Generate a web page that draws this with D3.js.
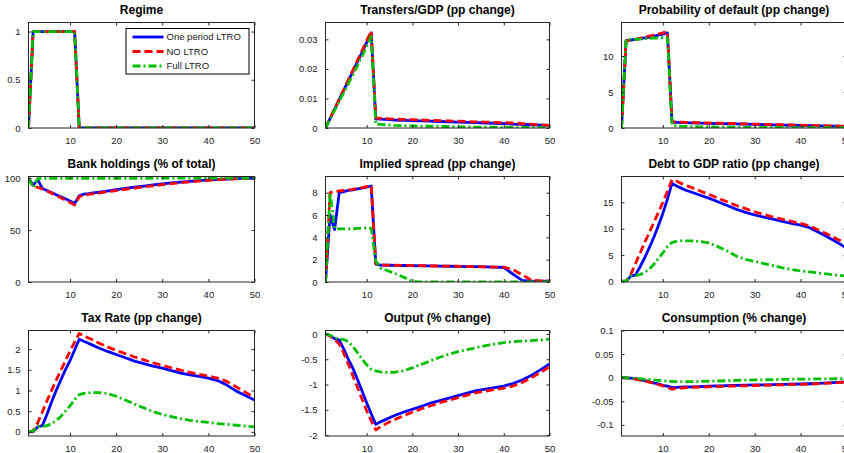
<!DOCTYPE html>
<html>
<head>
<meta charset="utf-8">
<script src="https://cdn.jsdelivr.net/npm/d3@7"></script>
<style>
  html, body { margin: 0; padding: 0; background: #fff; }
  svg { display: block; }
  text { font-family: "Liberation Sans", Arial, Helvetica, sans-serif; }
</style>
</head>
<body>
<svg id="chart" width="844" height="453"></svg>
<script>
// ---------------- DATA ----------------
const periods = [1,2,3,4,5,6,7,8,9,10,11,12,13,14,15,16,18,20,22,24,26,28,30,32,34,36,38,40,42,44,46,48,50];
const xTicks = [10,20,30,40,50];
const seriesNames = ["One period LTRO", "NO LTRO", "Full LTRO"];

const regimeOne  = [0,1,1,1,1,1,1,1,1,1,1,0,0,0,0,0,0,0,0,0,0,0,0,0,0,0,0,0,0,0,0,0,0];
const regimeNo   = [0,1,1,1,1,1,1,1,1,1,1,0,0,0,0,0,0,0,0,0,0,0,0,0,0,0,0,0,0,0,0,0,0];
const regimeFull = [0,1,1,1,1,1,1,1,1,1,1,0,0,0,0,0,0,0,0,0,0,0,0,0,0,0,0,0,0,0,0,0,0];
const regimeTicks = [0,0.5,1];

const transfersOne  = [0,0.0032,0.0064,0.0096,0.0128,0.016,0.0192,0.0224,0.0256,0.0289,0.0322,0.0031,0.0030,0.0029,0.0028,0.0027,0.0026,0.0025,0.0024,0.0023,0.0022,0.0021,0.0020,0.0019,0.0018,0.0017,0.0016,0.0015,0.0013,0.0012,0.0011,0.0010,0.0009];
const transfersNo   = [0,0.0033,0.0065,0.0098,0.013,0.0163,0.0196,0.0229,0.0262,0.0295,0.0328,0.0034,0.0033,0.0032,0.0031,0.0030,0.0029,0.0028,0.0027,0.0026,0.0025,0.0024,0.0023,0.0022,0.0021,0.0020,0.0019,0.0018,0.0017,0.0015,0.0013,0.0011,0.0009];
const transfersFull = [0,0.0030,0.0060,0.0090,0.0120,0.0150,0.0180,0.0212,0.0243,0.0276,0.0310,0.0013,0.0012,0.0011,0.0010,0.0009,0.0008,0.0007,0.0006,0.0006,0.0005,0.0005,0.0004,0.0004,0.0003,0.0003,0.0003,0.0002,0.0002,0.0002,0.0002,0.0001,0.0001];
const transfersTicks = [0,0.01,0.02,0.03];

const defaultOne  = [0,12.1,12.2,12.3,12.4,12.5,12.6,12.75,12.9,13.05,13.2,0.8,0.78,0.76,0.74,0.72,0.69,0.65,0.62,0.59,0.56,0.53,0.50,0.47,0.44,0.41,0.38,0.35,0.32,0.29,0.26,0.24,0.22];
const defaultNo   = [0,12.1,12.2,12.3,12.45,12.6,12.75,12.9,13.05,13.2,13.4,0.85,0.83,0.81,0.79,0.77,0.73,0.69,0.66,0.63,0.60,0.57,0.54,0.51,0.48,0.45,0.42,0.39,0.36,0.33,0.30,0.27,0.25];
const defaultFull = [0,12.2,12.3,12.3,12.35,12.4,12.45,12.5,12.5,12.55,12.5,0.4,0.3,0.25,0.22,0.2,0.17,0.15,0.13,0.12,0.11,0.1,0.09,0.08,0.07,0.07,0.06,0.06,0.05,0.05,0.05,0.04,0.04];
const defaultTicks = [0,5,10];

const bankOne  = [100,93,98.5,90,88,86,84,82,80,78,75.5,83,84.5,85,85.7,86.3,87.5,88.8,90,91.2,92.3,93.4,94.4,95.3,96.1,96.9,97.6,98.2,98.7,99.1,99.4,99.6,99.8];
const bankNo   = [100,92,91,89.5,87.5,85.5,83.3,81,78.8,76.5,74,82,83.5,84.2,84.9,85.5,86.8,88,89.2,90.4,91.5,92.6,93.6,94.6,95.5,96.4,97.2,97.9,98.5,99,99.3,99.6,99.8];
const bankFull = [100,91,99.5,99.7,99.8,99.8,99.8,99.8,99.8,99.8,99.8,99.8,99.8,99.8,99.8,99.8,99.8,99.8,99.8,99.8,99.8,99.8,99.9,99.9,99.9,99.9,99.9,99.9,99.9,99.9,99.9,99.9,99.9];
const bankTicks = [0,50,100];

const spreadOne  = [0,6.0,4.7,8.0,8.1,8.2,8.25,8.35,8.4,8.5,8.6,1.6,1.52,1.5,1.5,1.49,1.48,1.46,1.45,1.44,1.42,1.41,1.4,1.38,1.37,1.35,1.33,1.3,0.7,0.15,0.08,0.07,0.07];
const spreadNo   = [0,8.0,8.1,8.15,8.2,8.25,8.3,8.4,8.45,8.55,8.65,1.65,1.55,1.52,1.51,1.5,1.49,1.47,1.46,1.45,1.43,1.42,1.41,1.39,1.38,1.36,1.34,1.33,1.1,0.65,0.18,0.1,0.1];
const spreadFull = [0,8.0,4.8,4.75,4.75,4.75,4.75,4.8,4.8,4.85,4.8,1.9,1.25,1.1,0.95,0.8,0.45,0.05,0,0,0,0,0,0,0,0,0,0,0,0,0,0,0];
const spreadTicks = [0,2,4,6,8];

const debtOne  = [0,0,1.0,1.2,2.7,4.4,6.3,8.3,10.5,12.9,15.6,18.6,18.1,17.7,17.3,17.0,16.4,15.8,15.1,14.4,13.7,13.1,12.6,12.2,11.8,11.4,11.0,10.7,10.2,9.3,8.4,7.4,6.3];
const debtNo   = [0,0.1,1.3,3.3,5.3,7.3,9.2,11.1,13.0,15.0,17.1,19.3,19.0,18.6,18.2,17.9,17.2,16.5,15.8,15.1,14.4,13.8,13.2,12.7,12.2,11.8,11.4,11.0,10.5,9.7,8.9,8.0,7.2];
const debtFull = [0,0.1,1.0,1.1,1.3,1.7,2.3,3.2,4.3,5.4,6.6,7.4,7.6,7.7,7.7,7.7,7.6,7.3,6.6,5.8,4.8,4.2,3.8,3.4,3.0,2.6,2.3,2.0,1.8,1.6,1.4,1.2,1.0];
const debtTicks = [0,5,10,15];

const taxOne  = [0,0,0.12,0.15,0.42,0.72,1.0,1.25,1.5,1.72,1.98,2.24,2.19,2.14,2.09,2.04,1.95,1.87,1.79,1.71,1.65,1.59,1.54,1.48,1.42,1.38,1.34,1.30,1.24,1.13,0.99,0.88,0.77];
const taxNo   = [0,0.02,0.22,0.48,0.75,1.0,1.25,1.48,1.72,1.95,2.17,2.38,2.32,2.27,2.22,2.16,2.06,1.97,1.89,1.81,1.74,1.67,1.61,1.55,1.49,1.44,1.39,1.35,1.30,1.22,1.09,0.96,0.83];
const taxFull = [0,0.02,0.12,0.13,0.15,0.2,0.27,0.37,0.5,0.63,0.78,0.9,0.93,0.94,0.95,0.95,0.93,0.86,0.77,0.67,0.58,0.49,0.42,0.37,0.32,0.28,0.25,0.23,0.2,0.18,0.16,0.14,0.12];
const taxTicks = [0,0.5,1,1.5,2];

const outputOne  = [0,-0.03,-0.09,-0.12,-0.3,-0.5,-0.68,-0.9,-1.13,-1.36,-1.58,-1.79,-1.74,-1.70,-1.66,-1.62,-1.55,-1.49,-1.43,-1.37,-1.32,-1.27,-1.22,-1.17,-1.12,-1.09,-1.06,-1.03,-0.98,-0.91,-0.82,-0.71,-0.59];
const outputNo   = [0,-0.04,-0.11,-0.2,-0.38,-0.6,-0.83,-1.06,-1.29,-1.52,-1.72,-1.9,-1.84,-1.79,-1.74,-1.70,-1.62,-1.55,-1.48,-1.42,-1.36,-1.31,-1.26,-1.21,-1.16,-1.13,-1.10,-1.07,-1.03,-0.96,-0.87,-0.76,-0.65];
const outputFull = [0,-0.02,-0.08,-0.1,-0.11,-0.15,-0.25,-0.37,-0.5,-0.61,-0.7,-0.73,-0.75,-0.76,-0.76,-0.76,-0.73,-0.67,-0.6,-0.53,-0.46,-0.4,-0.35,-0.31,-0.27,-0.23,-0.2,-0.17,-0.15,-0.14,-0.13,-0.12,-0.1];
const outputTicks = [-2,-1.5,-1,-0.5,0];

const consOne  = [0,-0.0005,-0.001,-0.002,-0.004,-0.006,-0.008,-0.011,-0.013,-0.016,-0.018,-0.021,-0.0205,-0.02,-0.0197,-0.0194,-0.0187,-0.018,-0.0174,-0.0168,-0.0163,-0.0158,-0.0154,-0.015,-0.0146,-0.0142,-0.0138,-0.0133,-0.0128,-0.012,-0.011,-0.0098,-0.0087];
const consNo   = [0,-0.0005,-0.0015,-0.003,-0.005,-0.007,-0.0095,-0.012,-0.0145,-0.017,-0.0205,-0.0245,-0.0225,-0.0218,-0.0212,-0.0207,-0.02,-0.0193,-0.0186,-0.018,-0.0175,-0.017,-0.0165,-0.016,-0.0155,-0.015,-0.0145,-0.014,-0.0135,-0.0127,-0.0117,-0.0105,-0.0093];
const consFull = [0,-0.0005,-0.001,-0.0015,-0.002,-0.003,-0.0037,-0.0045,-0.0055,-0.0065,-0.0075,-0.008,-0.0085,-0.0085,-0.0085,-0.0085,-0.008,-0.0075,-0.007,-0.0063,-0.0057,-0.0052,-0.0048,-0.0044,-0.004,-0.0036,-0.0033,-0.003,-0.0028,-0.0026,-0.0024,-0.0022,-0.002];
const consTicks = [-0.1,-0.05,0,0.05,0.1];

// ---------------- LAYOUT / STYLE ----------------
const panels = [
  {title:"Regime", s:[regimeOne,regimeNo,regimeFull], dom:[0,1.094], ticks:regimeTicks, legend:true},
  {title:"Transfers/GDP (pp change)", s:[transfersOne,transfersNo,transfersFull], dom:[0,0.0357], ticks:transfersTicks},
  {title:"Probability of default (pp change)", s:[defaultOne,defaultNo,defaultFull], dom:[0,14.65], ticks:defaultTicks},
  {title:"Bank holdings (% of total)", s:[bankOne,bankNo,bankFull], dom:[0,101.5], ticks:bankTicks},
  {title:"Implied spread (pp change)", s:[spreadOne,spreadNo,spreadFull], dom:[0,9.45], ticks:spreadTicks},
  {title:"Debt to GDP ratio (pp change)", s:[debtOne,debtNo,debtFull], dom:[-0.1,19.9], ticks:debtTicks},
  {title:"Tax Rate (pp change)", s:[taxOne,taxNo,taxFull], dom:[-0.1,2.45], ticks:taxTicks},
  {title:"Output (% change)", s:[outputOne,outputNo,outputFull], dom:[-2.02,0.07], ticks:outputTicks},
  {title:"Consumption (% change)", s:[consOne,consNo,consFull], dom:[-0.1235,0.1], ticks:consTicks}
];

const colLeft = [28.5, 325.5, 621.5];
const colWidth = [226, 224, 225];
const rowTop = [22.5, 176.5, 330.5];
const rowHeight = 105.5;

const lineStyles = [
  {color:"#0000ff", dash:null},
  {color:"#ff0000", dash:"8,4"},
  {color:"#00bf00", dash:"8,3,2,3"}
];
const axisColor = "#262626";
const tickLen = 3;

const svg = d3.select("#chart");

panels.forEach((p, i) => {
  const c = i % 3, r = Math.floor(i / 3);
  const L = colLeft[c], T = rowTop[r], W = colWidth[c], H = rowHeight;
  const x = d3.scaleLinear().domain([1, 50]).range([L, L + W]);
  const y = d3.scaleLinear().domain(p.dom).range([T + H, T]);
  const g = svg.append("g");

  // clip
  const cid = "clip" + i;
  svg.append("clipPath").attr("id", cid)
    .append("rect").attr("x", L).attr("y", T).attr("width", W).attr("height", H);

  // lines
  const line = d3.line().x((d, k) => x(periods[k])).y(d => y(d));
  const lg = g.append("g").attr("clip-path", `url(#${cid})`);
  p.s.forEach((vals, k) => {
    lg.append("path").datum(vals)
      .attr("d", line)
      .attr("fill", "none")
      .attr("stroke", lineStyles[k].color)
      .attr("stroke-width", 2.8)
      .attr("stroke-linejoin", "round")
      .attr("stroke-dasharray", lineStyles[k].dash);
  });

  // box
  g.append("rect").attr("x", L).attr("y", T).attr("width", W).attr("height", H)
    .attr("fill", "none").attr("stroke", axisColor).attr("stroke-width", 1);

  // x axis bottom ticks + labels (inside ticks), top ticks
  const xb = d3.axisBottom(x).tickValues(xTicks).tickSizeInner(-tickLen).tickSizeOuter(0).tickPadding(6 + tickLen);
  const xa = g.append("g").attr("transform", `translate(0,${T + H})`).call(xb);
  const xt = d3.axisTop(x).tickValues(xTicks).tickSizeInner(-tickLen).tickSizeOuter(0).tickFormat("");
  const xa2 = g.append("g").attr("transform", `translate(0,${T})`).call(xt);

  // y axis left ticks + labels, right ticks
  const yl = d3.axisLeft(y).tickValues(p.ticks).tickSizeInner(-tickLen).tickSizeOuter(0)
    .tickPadding(5 + tickLen).tickFormat(v => String(v));
  const ya = g.append("g").attr("transform", `translate(${L},0)`).call(yl);
  const yr = d3.axisRight(y).tickValues(p.ticks).tickSizeInner(-tickLen).tickSizeOuter(0).tickFormat("");
  const ya2 = g.append("g").attr("transform", `translate(${L + W},0)`).call(yr);

  [xa, xa2, ya, ya2].forEach(a => {
    a.select(".domain").remove();
    a.selectAll("line").attr("stroke", axisColor);
    a.selectAll("text").attr("fill", "#222").style("font-size", "9.5px")
      .style("font-family", '"Liberation Sans", Arial, sans-serif');
  });

  // title
  g.append("text").attr("x", L + W / 2).attr("y", T - 9)
    .attr("text-anchor", "middle").style("font-size", "12px").style("font-weight", "bold")
    .attr("fill", "#000").text(p.title);

  // legend
  if (p.legend) {
    const lx = 126, ly = 28.5, lw = 123, lh = 45.5;
    const leg = g.append("g");
    leg.append("rect").attr("x", lx).attr("y", ly).attr("width", lw).attr("height", lh)
      .attr("fill", "#fff").attr("stroke", "#000").attr("stroke-width", 1);
    seriesNames.forEach((nm, k) => {
      const yy = ly + 8.5 + k * 14.5;
      leg.append("line").attr("x1", lx + 6.5).attr("x2", lx + 37.5).attr("y1", yy).attr("y2", yy)
        .attr("stroke", lineStyles[k].color).attr("stroke-width", 2.8)
        .attr("stroke-dasharray", lineStyles[k].dash);
      leg.append("text").attr("x", lx + 40.5).attr("y", yy).attr("dy", "0.35em")
        .style("font-size", "9.5px").attr("fill", "#222").text(nm);
    });
  }
});
</script>
</body>
</html>
